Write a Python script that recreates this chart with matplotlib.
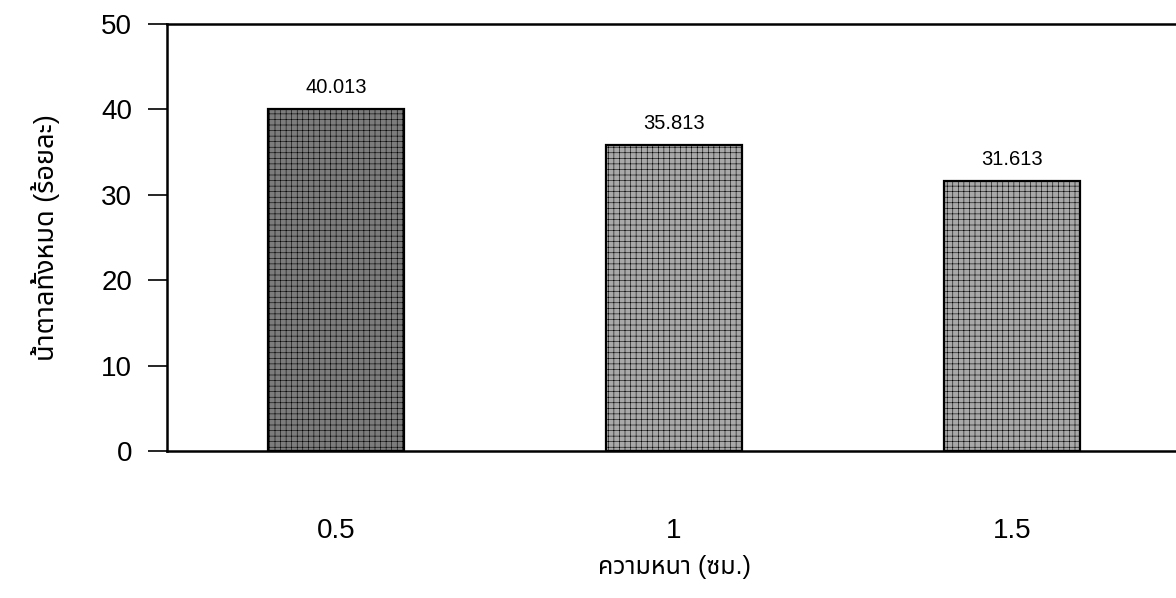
import matplotlib
matplotlib.use("Agg")
import matplotlib.pyplot as plt
import numpy as np

plt.rcParams['font.family'] = ['Liberation Sans', 'Noto Sans Thai', 'DejaVu Sans']
plt.rcParams['hatch.linewidth'] = 0.4

# ข้อมูล
ความหนา = ["0.5", "1", "1.5"]
น้ำตาล = [40.013, 35.813, 31.613]
ป้าย = ["40.013", "35.813", "31.613"]
สีแท่ง = ["#7c7c7c", "#a8a8a8", "#a8a8a8"]

fig = plt.figure(figsize=(11.76, 5.98), dpi=100)
ax = fig.add_axes([167 / 1176, 1 - 451 / 598, (1181 - 167) / 1176, (451 - 24) / 598])

x = np.arange(len(ความหนา))
bars = ax.bar(x, น้ำตาล, width=0.405, color=สีแท่ง, edgecolor="black",
              linewidth=1.6, hatch="+++")
for b, t in zip(bars, ป้าย):
    ax.text(b.get_x() + b.get_width() / 2, b.get_height() + 1.4, t,
            ha="center", va="bottom", fontsize=14.5)

ax.set_xlim(-0.5, 2.5)
ax.set_ylim(0, 50)
ax.set_yticks([0, 10, 20, 30, 40, 50])
ax.tick_params(axis="y", direction="out", length=14, width=1.2, labelsize=20, pad=11)
ax.set_xticks(x)
ax.set_xticklabels(ความหนา)
ax.tick_params(axis="x", length=0, labelsize=20, pad=48)
for s in ["left", "bottom", "top"]:
    ax.spines[s].set_linewidth(1.8)
ax.spines["right"].set_visible(False)

ax.set_xlabel("ความหนา (ซม.)", fontsize=18, labelpad=8)
ax.set_ylabel("น้ำตาลทั้งหมด (ร้อยละ)", fontsize=19.5, labelpad=30)

fig.savefig("out.png")
